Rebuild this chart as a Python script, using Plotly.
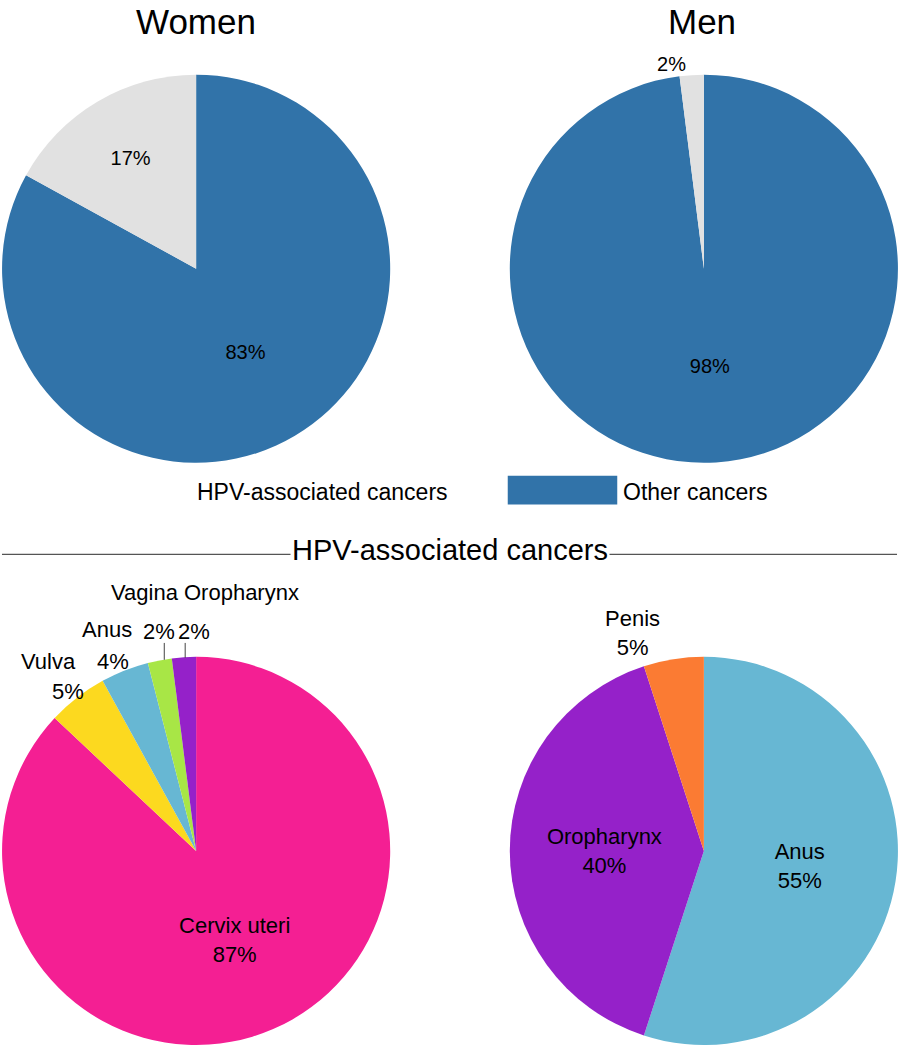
import plotly.graph_objects as go

# ---- data ----
top_labels = ["Other cancers", "HPV-associated cancers"]
women_top = [83, 17]
men_top = [98, 2]
top_colors = ["#3173A9", "#E1E1E1"]

women_hpv_labels = ["Cervix uteri", "Vulva", "Anus", "Vagina", "Oropharynx"]
women_hpv_values = [87, 5, 4, 2, 2]
women_hpv_colors = ["#F41F93", "#FCD91F", "#67B7D3", "#A8E646", "#9521C9"]

men_hpv_labels = ["Anus", "Oropharynx", "Penis"]
men_hpv_values = [55, 40, 5]
men_hpv_colors = ["#67B7D3", "#9521C9", "#FB7B33"]

FONT = "Liberation Sans, Arial, sans-serif"
W, H = 903, 1050

def px_x(a, b):
    return [a / W, b / W]

def px_y(top, bottom):
    return [1 - bottom / H, 1 - top / H]

def px(x, y):
    return x / W, 1 - y / H

fig = go.Figure()

common = dict(sort=False, direction="clockwise", rotation=0,
              insidetextorientation="horizontal",
              marker=dict(line=dict(width=0)), showlegend=False,
              hoverinfo="label+value")

fig.add_trace(go.Pie(labels=top_labels, values=women_top,
                     marker_colors=top_colors,
                     texttemplate="%{value}%", textposition="inside",
                     textfont=dict(family=FONT, size=20, color="black"),
                     domain=dict(x=px_x(2, 392), y=px_y(75, 465)), **common))
fig.add_trace(go.Pie(labels=top_labels, values=men_top,
                     marker_colors=top_colors,
                     texttemplate="%{value}%", textposition=["inside", "outside"],
                     textfont=dict(family=FONT, size=20, color="black"),
                     domain=dict(x=px_x(512, 902), y=px_y(75, 465)), **common))
# labels of the small slices are placed as annotations below (as in the original)
fig.add_trace(go.Pie(labels=women_hpv_labels, values=women_hpv_values,
                     marker_colors=women_hpv_colors,
                     texttemplate="%{label}<br>%{value}%",
                     textposition=["inside", "none", "none", "none", "none"],
                     textfont=dict(family=FONT, size=22, color="black"),
                     domain=dict(x=px_x(2, 392), y=px_y(660, 1050)), **common))
fig.add_trace(go.Pie(labels=men_hpv_labels, values=men_hpv_values,
                     marker_colors=men_hpv_colors,
                     texttemplate="%{label}<br>%{value}%",
                     textposition=["inside", "inside", "outside"],
                     textfont=dict(family=FONT, size=22, color="black"),
                     domain=dict(x=px_x(512, 902), y=px_y(660, 1050)), **common))

annotations = []

def ann(text, x, y, size, yanchor="middle", **kw):
    ax, ay = px(x, y)
    d = dict(text=text, x=ax, y=ay, xref="paper", yref="paper", showarrow=False,
             xanchor="center", yanchor=yanchor,
             font=dict(family=FONT, size=size, color="black"))
    d.update(kw)
    annotations.append(d)

ann("Women", 197, 0, 35, yanchor="top")
ann("Men", 705, 0, 35, yanchor="top")
ann(top_labels[1], 324, 494, 23)
ann(top_labels[0], 698, 494, 23)
ann("HPV-associated cancers", 452, 553, 29, bgcolor="white")
# small-slice labels of the women's HPV pie
ann(women_hpv_labels[1], 49, 665, 22)
ann(f"{women_hpv_values[1]}%", 68, 695, 22)
ann(women_hpv_labels[2], 107, 633, 22)
ann(f"{women_hpv_values[2]}%", 114, 665, 22)
ann(women_hpv_labels[3] + " " + women_hpv_labels[4], 206, 595, 22)
ann(f"{women_hpv_values[3]}%", 160, 635, 22)
ann(f"{women_hpv_values[4]}%", 195, 635, 22)

shapes = [
    dict(type="line", xref="paper", yref="paper", x0=2 / W, x1=901 / W,
         y0=1 - 557 / H, y1=1 - 557 / H, line=dict(color="#555555", width=1.2),
         layer="below"),
    dict(type="rect", xref="paper", yref="paper", x0=510 / W, x1=620 / W,
         y0=1 - 507 / H, y1=1 - 478 / H, fillcolor="#3173A9",
         line=dict(width=0)),
]
# leader lines for the two tiny slices
for (x, y0, y1) in [(165, 646, 663), (186, 646, 661)]:
    shapes.append(dict(type="line", xref="paper", yref="paper",
                       x0=x / W, x1=x / W, y0=1 - y0 / H, y1=1 - y1 / H,
                       line=dict(color="#444444", width=1)))

fig.update_layout(width=W, height=H, margin=dict(l=0, r=0, t=0, b=0),
                  paper_bgcolor="white", plot_bgcolor="white",
                  annotations=annotations, shapes=shapes,
                  font=dict(family=FONT, color="black"))

fig.write_html("out.html", config={"displayModeBar": False},
               post_script="document.body.style.margin='0';"
                           "document.body.style.overflow='hidden';")
